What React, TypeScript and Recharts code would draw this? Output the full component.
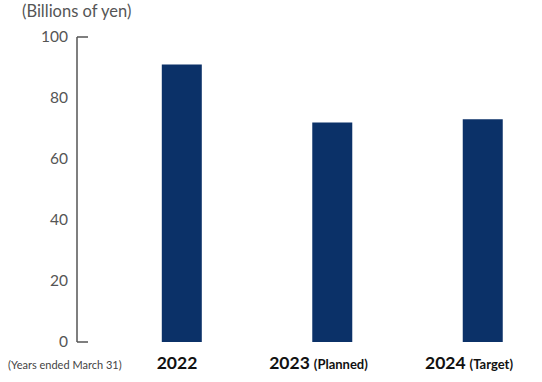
import { BarChart, Bar, XAxis, YAxis } from 'recharts';

const years = ['2022', '2023', '2024'];
const notes = ['', '(Planned)', '(Target)'];
const amounts = [91, 72, 73];
const yTicks = [0, 20, 40, 60, 80, 100];

const data = years.map((year, i) => ({ x: i, year, note: notes[i], value: amounts[i] }));

const GRAY = '#555';
const FONT = 'Lato, "Open Sans", sans-serif';

function YTick(props: any) {
  const { x, y, payload } = props;
  const v = payload.value;
  const edge = v === 0 || v === 100;
  return (
    <g>
      <text x={x} y={y} dy={5} textAnchor="end" fill={GRAY} fontSize={15.5} fontFamily={FONT}>
        {v}
      </text>
      {edge && <line x1={x + 9} x2={x + 20} y1={y} y2={y} stroke={GRAY} strokeWidth={1.5} />}
    </g>
  );
}

function XTick(props: any) {
  const { x, y, payload } = props;
  const d = data[payload.value];
  if (!d) return null;
  return (
    <text x={x} y={y} dy={23} dx={d.note ? -14 : -5} textAnchor="middle" fill="#111" fontFamily={FONT} fontWeight={700}>
      <tspan fontSize={17.5}>{d.year}</tspan>
      {d.note && <tspan fontSize={13} dx={4}>{d.note}</tspan>}
    </text>
  );
}

export default function App() {
  return (
    <div style={{ position: 'absolute', left: 0, top: 0, width: 542, height: 382, background: '#fff' }}>
      <div style={{ position: 'absolute', left: 22, top: 1, fontFamily: FONT, fontSize: 16.5, color: GRAY }}>
        (Billions of yen)
      </div>
      <div style={{ position: 'absolute', left: 8, top: 358, fontFamily: FONT, fontSize: 11, color: '#444' }}>
        (Years ended March 31)
      </div>
      <BarChart width={542} height={382} data={data} margin={{ top: 37, right: 8, bottom: 0, left: 0 }}>
        <XAxis
          dataKey="x"
          type="number"
          domain={[-0.698, 2.339]}
          ticks={[0, 1, 2]}
          axisLine={false}
          tickLine={false}
          height={40}
          tickSize={0}
          tickMargin={4}
          tick={<XTick />}
          interval={0}
          allowDataOverflow
        />
        <YAxis
          domain={[0, 100]}
          ticks={yTicks}
          width={77}
          tickLine={false}
          tickSize={0}
          tickMargin={9}
          axisLine={{ stroke: GRAY, strokeWidth: 1.5 }}
          tick={<YTick />}
          interval={0}
        />
        <Bar dataKey="value" fill="#0b3168" barSize={40} isAnimationActive={false} />
      </BarChart>
    </div>
  );
}
